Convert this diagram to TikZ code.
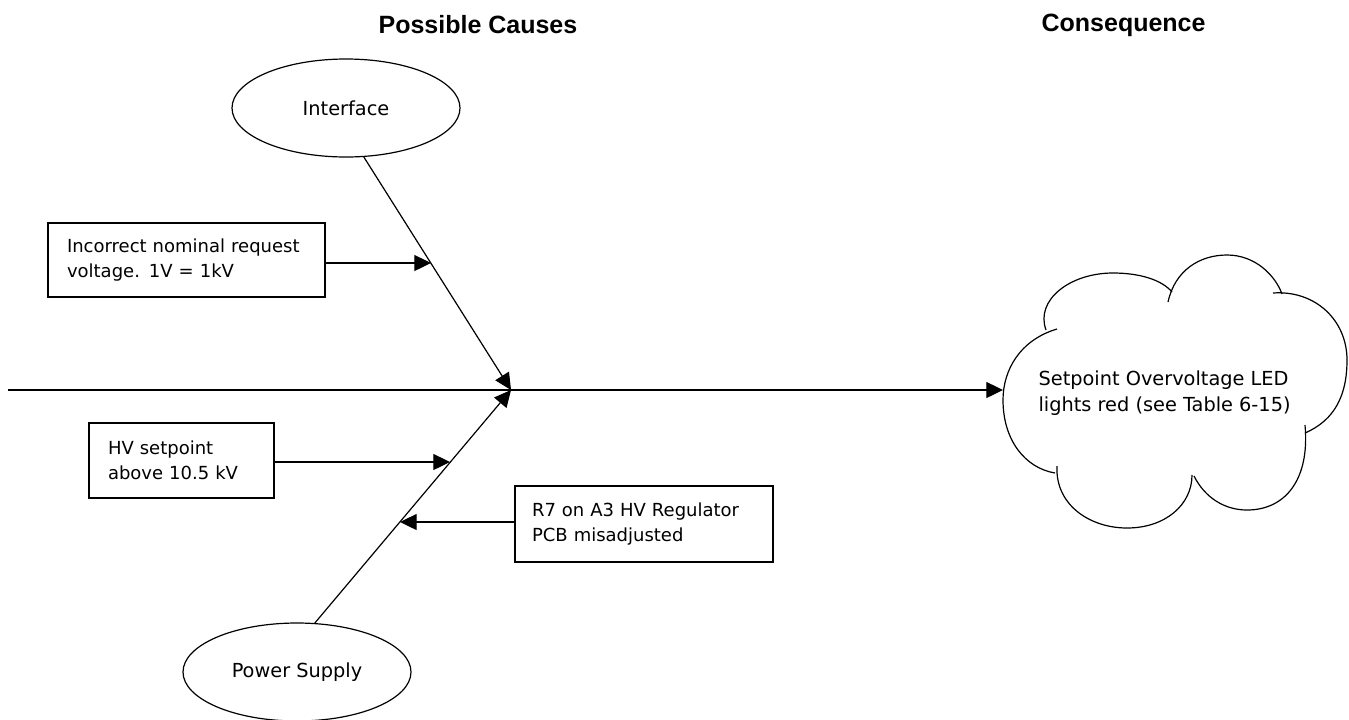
\documentclass[tikz,border=0pt]{standalone}
\usepackage{fontspec}
\setmainfont{DejaVu Sans}
\newfontfamily\titlefont{Liberation Sans}
\usetikzlibrary{shapes.geometric,arrows.meta}
\begin{document}
\begin{tikzpicture}[x=0.75pt,y=-0.75pt,
  line width=0.9pt,
  arr/.style={-{Triangle[length=12.5pt,width=12pt]}},
  causebox/.style={draw, rectangle, inner sep=0pt, align=left,
    font=\fontsize{13.5pt}{19pt}\selectfont},
  causeell/.style={draw, ellipse, inner sep=0pt, minimum width=171pt,
    minimum height=73.5pt, font=\fontsize{14.5pt}{17pt}\selectfont},
  titletext/.style={font=\titlefont\bfseries\fontsize{18.75pt}{22pt}\selectfont,
    inner sep=0pt, anchor=base west},
  cloudtext/.style={inner sep=0pt, anchor=west, align=left,
    font=\fontsize{14.5pt}{20pt}\selectfont}]
\useasboundingbox (0,0) rectangle (1349,719);

% titles
\node[titletext] (tcauses) at (378,33) {Possible Causes};
\node[titletext] (tcons) at (1041,31) {Consequence};

% category ellipses
\node[causeell] (iface) at (346,108) {Interface};
\node[causeell] (psu) at (297,672) {Power Supply};

% cause boxes
\node[causebox, minimum width=207.75pt, minimum height=55.5pt, text width=179.25pt]
  (box1) at (186.5,260) {Incorrect nominal request\\voltage. 1V = 1kV};
\node[causebox, minimum width=138.75pt, minimum height=56.25pt, text width=110.25pt]
  (box2) at (181.5,460.5) {HV setpoint\\above 10.5 kV};
\node[causebox, minimum width=193.5pt, minimum height=57pt, text width=168pt]
  (box3) at (644,524) {R7 on A3 HV Regulator\\PCB misadjusted};

% coordinates
\coordinate (C) at (511,390);
\coordinate (start) at (8,390);
\coordinate (cloudL) at (1003,390);
\coordinate (t1) at (431,263);
\coordinate (t2) at (450,462);
\coordinate (t3) at (400,522);

% bones
\draw[arr] (start) -- (cloudL);
\draw[arr] (iface.-70) -- (C);
\draw[arr] (psu.70) -- (C);
\draw[arr] (box1.east |- t1) -- (t1);
\draw[arr] (box2.east |- t2) -- (t2);
\draw[arr] (box3.west |- t3) -- (t3);

% consequence cloud
\draw (1057,329) .. controls (1020,340) and (1003,370) .. (1003,400)
  .. controls (1003,440) and (1025,468) .. (1055,473);
\draw (1057,466) .. controls (1055,505) and (1090,528) .. (1127,528)
  .. controls (1165,528) and (1192,505) .. (1192,475);
\draw (1194,476) .. controls (1205,498) and (1225,510) .. (1247,510)
  .. controls (1285,510) and (1310,480) .. (1305,425);
\draw (1305,433) .. controls (1335,420) and (1347,395) .. (1347,360)
  .. controls (1347,320) and (1315,290) .. (1273,293);
\draw (1168,302) .. controls (1175,270) and (1200,255) .. (1227,255)
  .. controls (1255,255) and (1275,275) .. (1282,294);
\draw (1046,330) .. controls (1035,300) and (1070,273) .. (1113,273)
  .. controls (1140,273) and (1162,280) .. (1172,292);
\node[cloudtext] (ctext) at (1038,393) {Setpoint Overvoltage LED\\lights red (see Table 6-15)};
\end{tikzpicture}
\end{document}
